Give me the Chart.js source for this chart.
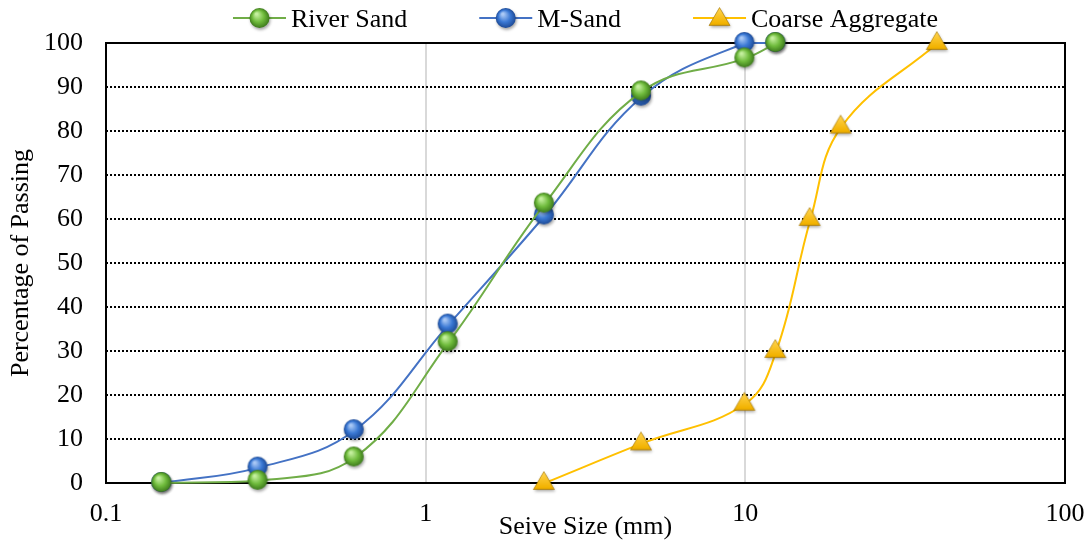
<!DOCTYPE html>
<html>
<head>
<meta charset="utf-8">
<script src="https://cdn.jsdelivr.net/npm/chart.js@4.4.1/dist/chart.umd.min.js"></script>
<style>
  html, body { margin: 0; padding: 0; background: #fff; }
  #wrap { width: 1091px; height: 544px; }
</style>
</head>
<body>
<div id="wrap"><canvas id="grad" width="1091" height="544"></canvas></div>
<script>
// ─── DATOS ────────────────────────────────────────────────────────────────
const sandSieve    = [0.15, 0.3, 0.6, 1.18, 2.36, 4.75, 10, 12.5];
const riverPass    = [0, 0.5, 5.8, 32, 63.5, 89, 96.5, 100];
const msandPass    = [0, 3.5, 12, 36, 60.8, 87.8, 100, 100];
const coarseSieve  = [2.36, 4.75, 10, 12.5, 16, 20, 40];
const coarsePass   = [0, 9, 18, 30, 60, 81, 100];
const xTicks       = [0.1, 1, 10, 100];
const seriesNames  = ["River Sand", "M-Sand", "Coarse Aggregate"];

const FONT = "'Liberation Serif', 'Times New Roman', serif";
const FS = 26;

const toPts = (xs, ys) => xs.map((x, i) => ({ x, y: ys[i] }));

// ─── MARCADORES ───────────────────────────────────────────────────────────
function drawSphere(ctx, cx, cy, r, c) {
  ctx.save();
  ctx.shadowColor = "rgba(0,0,0,0.35)";
  ctx.shadowBlur = 3;
  ctx.shadowOffsetX = 1;
  ctx.shadowOffsetY = 2;
  const g = ctx.createRadialGradient(cx - r * 0.3, cy - r * 0.4, r * 0.1, cx, cy, r);
  g.addColorStop(0, c.light);
  g.addColorStop(0.55, c.mid);
  g.addColorStop(1, c.dark);
  ctx.fillStyle = g;
  ctx.beginPath();
  ctx.arc(cx, cy, r, 0, Math.PI * 2);
  ctx.fill();
  ctx.restore();
}

function drawTri(ctx, cx, cy, r) {
  ctx.save();
  ctx.shadowColor = "rgba(0,0,0,0.3)";
  ctx.shadowBlur = 3;
  ctx.shadowOffsetX = 1;
  ctx.shadowOffsetY = 2;
  const h = r * 1.8;
  const g = ctx.createLinearGradient(cx, cy - h / 2, cx, cy + h / 2);
  g.addColorStop(0, "#ffd24a");
  g.addColorStop(0.8, "#f2b200");
  g.addColorStop(1, "#c08c00");
  ctx.fillStyle = g;
  ctx.beginPath();
  ctx.moveTo(cx, cy - h * 0.58);
  ctx.lineTo(cx + r * 1.05, cy + h * 0.42);
  ctx.lineTo(cx - r * 1.05, cy + h * 0.42);
  ctx.closePath();
  ctx.fill();
  ctx.restore();
  ctx.strokeStyle = "rgba(160,115,0,0.6)";
  ctx.lineWidth = 1;
  ctx.stroke();
}

const GREEN = { line: "#70ad47", light: "#c4ef9e", mid: "#6fbb3c", dark: "#3d7a1c" };
const BLUE  = { line: "#4472c4", light: "#a9c8f5", mid: "#3a78d4", dark: "#1d4a96" };
const GOLD  = { line: "#ffc000" };

const styles = [
  { c: GREEN, kind: "ball" },
  { c: BLUE,  kind: "ball" },
  { c: GOLD,  kind: "tri"  }
];

function drawMarker(ctx, s, cx, cy) {
  if (s.kind === "tri") drawTri(ctx, cx, cy, 10);
  else drawSphere(ctx, cx, cy, 10, s.c);
}

function markerImg(s) {
  const cv = document.createElement("canvas");
  cv.width = 28; cv.height = 28;
  drawMarker(cv.getContext("2d"), s, 13, 13);
  return cv;
}
const pointImgs = styles.map(markerImg);

// ─── MARCO Y LEYENDA ──────────────────────────────────────────────────────
const frame = {
  id: "frame",
  beforeDatasetsDraw(chart) {
    const { ctx, chartArea: a } = chart;
    ctx.save();
    ctx.strokeStyle = "#000";
    ctx.lineWidth = 2;
    ctx.strokeRect(a.left, a.top, a.right - a.left, a.bottom - a.top);
    ctx.restore();
  }
};

const legendBar = {
  id: "legendBar",
  afterDraw(chart) {
    const { ctx, chartArea: a } = chart;
    const lineLen = 53, textGap = 58, itemGap = 72, midY = 18;
    ctx.save();
    ctx.font = `${FS}px ${FONT}`;
    const widths = seriesNames.map(t => ctx.measureText(t).width);
    const total = widths.reduce((s, w) => s + w, 0) + seriesNames.length * textGap + (seriesNames.length - 1) * itemGap;
    let x = (a.left + a.right) / 2 - total / 2;
    seriesNames.forEach((name, i) => {
      ctx.strokeStyle = styles[i].c.line;
      ctx.lineWidth = 2;
      ctx.beginPath();
      ctx.moveTo(x, midY);
      ctx.lineTo(x + lineLen, midY);
      ctx.stroke();
      drawMarker(ctx, styles[i], x + lineLen / 2, midY);
      ctx.fillStyle = "#000";
      ctx.textBaseline = "alphabetic";
      ctx.textAlign = "left";
      ctx.fillText(name, x + textGap, 27);
      x += textGap + widths[i] + itemGap;
    });
    ctx.restore();
  }
};

const seriesData = [
  toPts(sandSieve, riverPass),
  toPts(sandSieve, msandPass),
  toPts(coarseSieve, coarsePass)
];

new Chart(document.getElementById("grad"), {
  type: "scatter",
  data: {
    datasets: seriesNames.map((name, i) => ({
      label: name,
      data: seriesData[i],
      showLine: true,
      tension: 0.4,
      borderColor: styles[i].c.line,
      borderWidth: 2,
      pointStyle: pointImgs[i],
      pointRadius: 10,
      pointHoverRadius: 10,
      clip: false
    }))
  },
  options: {
    responsive: false,
    animation: false,
    layout: { padding: { left: 0, right: 26, top: 43, bottom: 0 } },
    plugins: {
      tooltip: { enabled: false },
      legend: { display: false }
    },
    scales: {
      x: {
        type: "logarithmic",
        min: 0.1,
        max: 100,
        afterBuildTicks: (s) => { s.ticks = xTicks.map(v => ({ value: v })); },
        afterFit: (s) => {
          s.height = 61;
          // el rótulo "100" cabe en el margen derecho
          s.paddingRight = 0;
          s.paddingLeft = 0;
        },
        ticks: {
          color: "#000",
          font: { family: FONT, size: FS },
          padding: 16,
          maxRotation: 0,
          callback: (v) => String(v)
        },
        grid: {
          color: (c) => (c.tick && (c.tick.value === 1 || c.tick.value === 10)) ? "#d9d9d9" : "transparent",
          lineWidth: 2,
          drawTicks: false
        },
        border: { display: false },
        title: {
          display: true,
          text: "Seive Size (mm)",
          color: "#000",
          font: { family: FONT, size: FS },
          padding: { top: 0, bottom: 1 }
        }
      },
      y: {
        min: 0,
        max: 100,
        afterFit: (s) => { s.width = 106; },
        ticks: {
          stepSize: 10,
          color: "#000",
          font: { family: FONT, size: FS },
          padding: 23
        },
        grid: {
          color: (c) => (c.tick && c.tick.value > 0 && c.tick.value < 100) ? "#000" : "transparent",
          lineWidth: 2,
          drawTicks: false
        },
        border: { display: false, dash: [2, 2] },
        title: {
          display: true,
          text: "Percentage of Passing",
          color: "#000",
          font: { family: FONT, size: FS },
          padding: { top: 6, bottom: 0 }
        }
      }
    }
  },
  plugins: [frame, legendBar]
});
</script>
</body>
</html>
